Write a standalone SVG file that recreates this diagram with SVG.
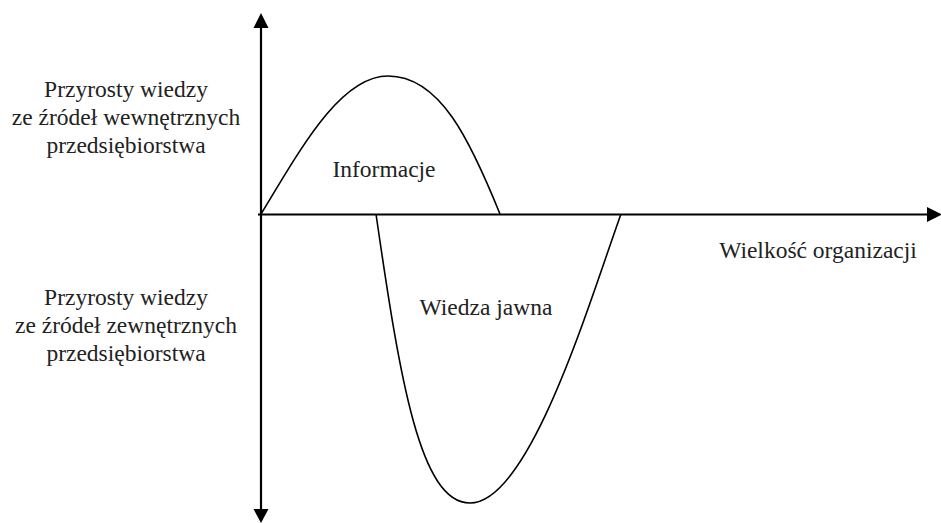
<svg xmlns="http://www.w3.org/2000/svg" width="941" height="523" viewBox="0 0 941 523" font-family="Liberation Serif, Times New Roman, serif">
<style>
text{font-family:"Liberation Serif","Times New Roman",serif}
.t{font-size:23.5px;fill:#222;text-anchor:middle}
.ax{stroke:#000;stroke-width:2.2;fill:none}
.cv{stroke:#000;stroke-width:1.6;fill:none}
.hd{fill:#000}
</style>
<g id="axes">
<line class="ax" x1="261" y1="214.5" x2="261" y2="25"/>
<polygon class="hd" points="261,13 253.5,28 268.5,28"/>
<line class="ax" x1="261" y1="214.5" x2="261" y2="512"/>
<polygon class="hd" points="261,523 253.5,509 268.5,509"/>
<line class="ax" x1="258" y1="214.5" x2="930" y2="214.5"/>
<polygon class="hd" points="942,214.5 927,207 927,222"/>
</g>
<g id="informacje">
<path class="cv" d="M261,214 C300,150 340,76 388,76 C440,76 470,140 500,214"/>
<text class="t" x="384" y="177">Informacje</text>
</g>
<g id="wiedza">
<path class="cv" d="M376,214 C400,380 420,503 470,503 C530,503 590,300 621,214"/>
<text class="t" x="486" y="315">Wiedza jawna</text>
</g>
<g id="internal">
<text class="t" x="126" y="97">Przyrosty wiedzy</text>
<text class="t" x="126" y="125">ze źródeł wewnętrznych</text>
<text class="t" x="126" y="153">przedsiębiorstwa</text>
</g>
<g id="external">
<text class="t" x="126" y="305">Przyrosty wiedzy</text>
<text class="t" x="126" y="333">ze źródeł zewnętrznych</text>
<text class="t" x="126" y="361">przedsiębiorstwa</text>
</g>
<g id="xlabel">
<text class="t" x="818" y="258">Wielkość organizacji</text>
</g>
</svg>
